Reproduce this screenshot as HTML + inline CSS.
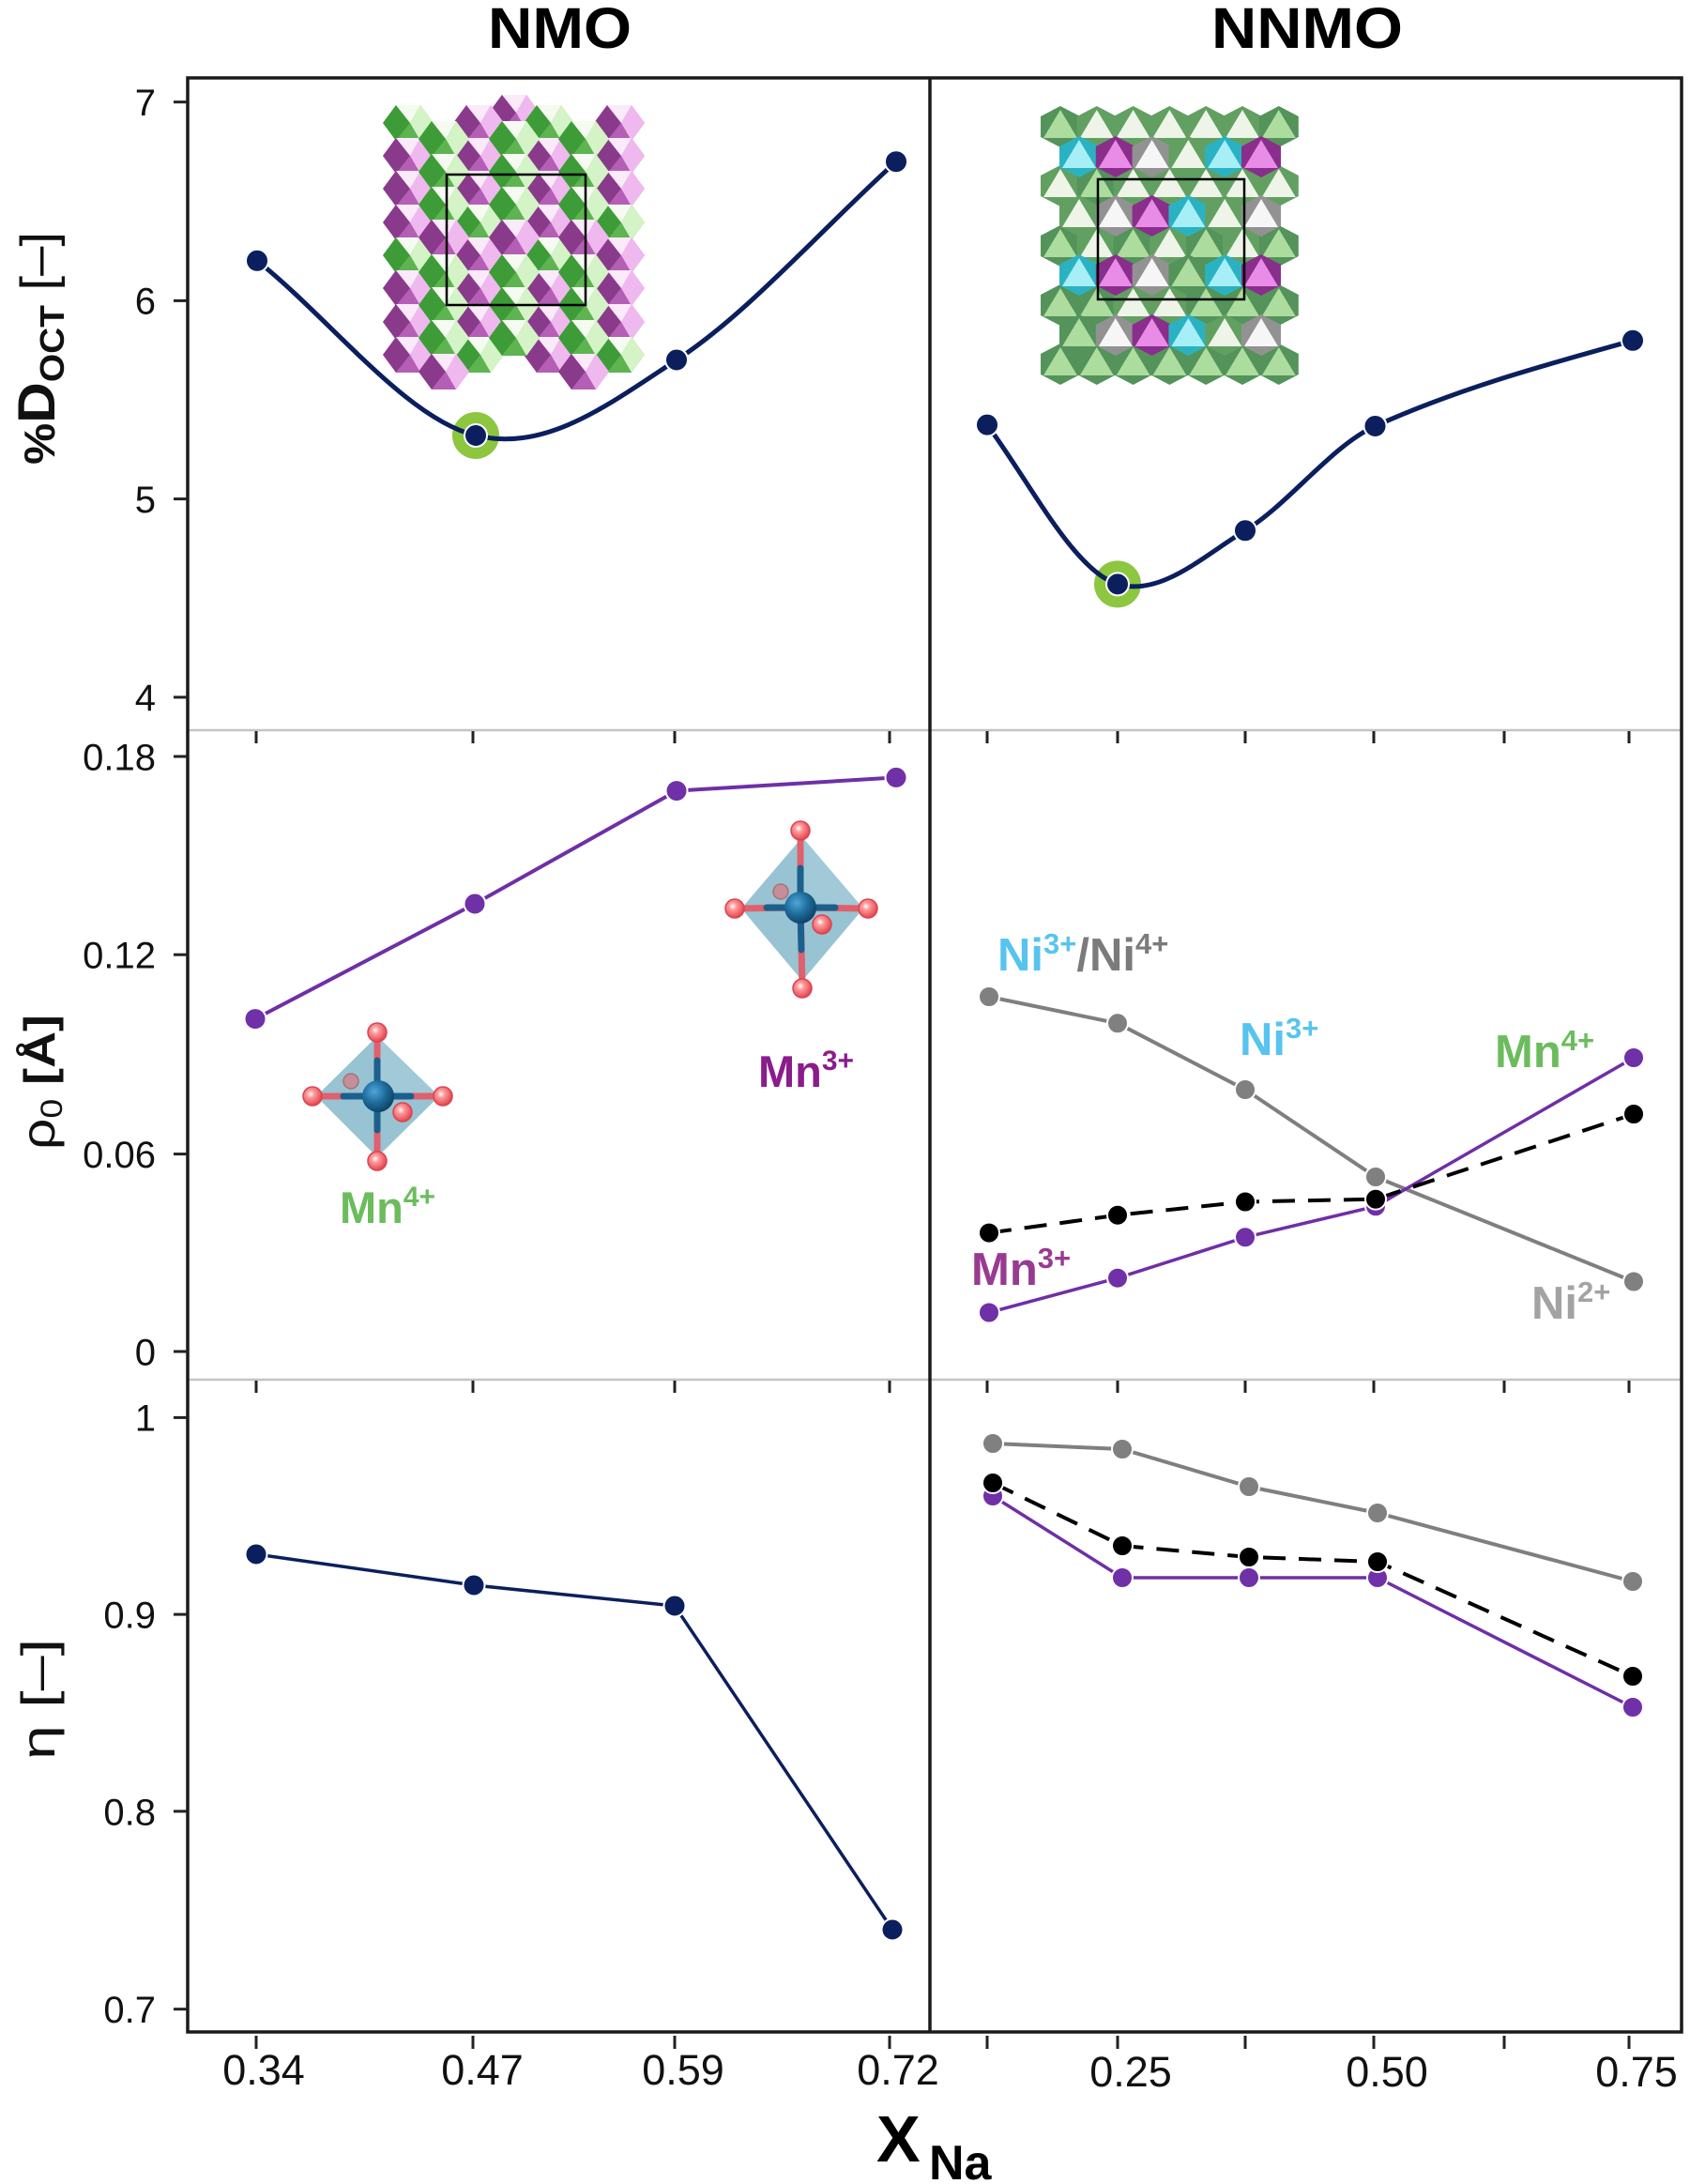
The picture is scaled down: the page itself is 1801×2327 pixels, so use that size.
<!DOCTYPE html>
<html><head><meta charset="utf-8"><style>html,body{margin:0;padding:0;background:#fff}svg{display:block}</style></head>
<body>
<svg width="1801" height="2327" viewBox="0 0 1801 2327" xmlns="http://www.w3.org/2000/svg" font-family="'Liberation Sans', Arial, sans-serif">
<defs>
  <radialGradient id="mnG" cx="0.38" cy="0.35" r="0.7">
    <stop offset="0" stop-color="#4fa6d6"/><stop offset="0.5" stop-color="#1f6e9e"/><stop offset="1" stop-color="#0c3f62"/>
  </radialGradient>
  <radialGradient id="oG" cx="0.4" cy="0.38" r="0.65">
    <stop offset="0" stop-color="#ffffff"/><stop offset="0.3" stop-color="#ff9a9a"/><stop offset="1" stop-color="#e0404c"/>
  </radialGradient>
  <g id="m3">
    <polygon points="-27,0 -13,-19 13,-19 27,0 13,19 -13,19" fill="#d57fd5"/>
    <polygon points="-27,0 -13,-19 2,0 -13,19" fill="#8a3a8b"/>
    <polygon points="2,0 13,-19 27,0 13,19" fill="#efb8ef"/>
    <polygon points="-13,-19 13,-19 2,0" fill="#faeafa"/>
    <polygon points="-13,19 13,19 2,0" fill="#b45fb5"/>
  </g>
  <g id="m4">
    <polygon points="-27,0 -13,-19 13,-19 27,0 13,19 -13,19" fill="#78c868"/>
    <polygon points="-27,0 -13,-19 2,0 -13,19" fill="#3d9c37"/>
    <polygon points="2,0 13,-19 27,0 13,19" fill="#d4f3c6"/>
    <polygon points="-13,-19 13,-19 2,0" fill="#f5fbf1"/>
    <polygon points="-13,19 13,19 2,0" fill="#5db451"/>
  </g>
  <g id="ng"><polygon points="0,-22 21,-11 21,11 0,22 -21,11 -21,-11" fill="#54935a"/><polygon points="0,-18 18,12 -18,12" fill="#acdd9e"/></g>
  <g id="nw"><polygon points="0,-22 21,-11 21,11 0,22 -21,11 -21,-11" fill="#62a062"/><polygon points="0,-18 18,12 -18,12" fill="#eef5e8"/></g>
  <g id="nc"><polygon points="0,-22 21,-11 21,11 0,22 -21,11 -21,-11" fill="#2bb2c2"/><polygon points="0,-18 18,12 -18,12" fill="#a7eff6"/></g>
  <g id="nm"><polygon points="0,-22 21,-11 21,11 0,22 -21,11 -21,-11" fill="#8a2e8c"/><polygon points="0,-18 18,12 -18,12" fill="#e88ce8"/></g>
  <g id="ny"><polygon points="0,-22 21,-11 21,11 0,22 -21,11 -21,-11" fill="#929292"/><polygon points="0,-18 18,12 -18,12" fill="#f6f6f6"/></g>
</defs>

<!-- Titles -->
<text x="520" y="51" font-size="61" font-weight="bold" textLength="153" lengthAdjust="spacingAndGlyphs" fill="#000">NMO</text>
<text x="1291" y="51" font-size="61" font-weight="bold" textLength="204" lengthAdjust="spacingAndGlyphs" fill="#000">NNMO</text>

<!-- NMO inset -->
<g>
  <use href="#m3" x="548" y="120"/>
  <use href="#m4" x="435" y="131"/><use href="#m3" x="435" y="166"/><use href="#m3" x="435" y="201"/><use href="#m3" x="435" y="237"/><use href="#m4" x="435" y="272"/><use href="#m3" x="435" y="307"/><use href="#m3" x="435" y="343"/><use href="#m3" x="435" y="378"/>
  <use href="#m3" x="510" y="131"/><use href="#m3" x="510" y="166"/><use href="#m3" x="510" y="201"/><use href="#m4" x="510" y="237"/><use href="#m3" x="510" y="272"/><use href="#m3" x="510" y="307"/><use href="#m3" x="510" y="343"/><use href="#m4" x="510" y="378"/>
  <use href="#m4" x="585" y="131"/><use href="#m3" x="585" y="166"/><use href="#m3" x="585" y="201"/><use href="#m3" x="585" y="237"/><use href="#m4" x="585" y="272"/><use href="#m3" x="585" y="307"/><use href="#m3" x="585" y="343"/><use href="#m3" x="585" y="378"/>
  <use href="#m3" x="660" y="131"/><use href="#m3" x="660" y="166"/><use href="#m3" x="660" y="201"/><use href="#m4" x="660" y="237"/><use href="#m3" x="660" y="272"/><use href="#m3" x="660" y="307"/><use href="#m3" x="660" y="343"/><use href="#m4" x="660" y="378"/>
  <use href="#m4" x="473" y="148"/><use href="#m4" x="473" y="183"/><use href="#m4" x="473" y="218"/><use href="#m3" x="473" y="253"/><use href="#m4" x="473" y="290"/><use href="#m4" x="473" y="325"/><use href="#m4" x="473" y="360"/><use href="#m3" x="473" y="396"/>
  <use href="#m4" x="548" y="148"/><use href="#m4" x="548" y="183"/><use href="#m4" x="548" y="218"/><use href="#m3" x="548" y="253"/><use href="#m4" x="548" y="290"/><use href="#m4" x="548" y="325"/><use href="#m4" x="548" y="360"/>
  <use href="#m4" x="622" y="148"/><use href="#m4" x="622" y="183"/><use href="#m4" x="622" y="218"/><use href="#m3" x="622" y="253"/><use href="#m4" x="622" y="290"/><use href="#m4" x="622" y="325"/><use href="#m4" x="622" y="360"/><use href="#m3" x="622" y="396"/>
  <rect x="476" y="186" width="148" height="139" fill="none" stroke="#000" stroke-width="2.5"/>
</g>

<!-- NNMO inset -->
<g>
  <use href="#ng" x="1130" y="135"/><use href="#nw" x="1168.8" y="135"/><use href="#nw" x="1207.6" y="135"/><use href="#nw" x="1246.4" y="135"/><use href="#nw" x="1285.2" y="135"/><use href="#nw" x="1324" y="135"/><use href="#ng" x="1362.8" y="135"/>
  <use href="#nw" x="1130" y="198"/><use href="#ng" x="1168.8" y="198"/><use href="#nw" x="1207.6" y="198"/><use href="#nw" x="1246.4" y="198"/><use href="#nw" x="1285.2" y="198"/><use href="#nw" x="1324" y="198"/><use href="#nw" x="1362.8" y="198"/>
  <use href="#ng" x="1130" y="262"/><use href="#nw" x="1168.8" y="262"/><use href="#ng" x="1207.6" y="262"/><use href="#nw" x="1246.4" y="262"/><use href="#ng" x="1285.2" y="262"/><use href="#nw" x="1324" y="262"/><use href="#ng" x="1362.8" y="262"/>
  <use href="#ng" x="1130" y="325"/><use href="#ng" x="1168.8" y="325"/><use href="#nw" x="1207.6" y="325"/><use href="#nw" x="1246.4" y="325"/><use href="#ng" x="1285.2" y="325"/><use href="#ng" x="1324" y="325"/><use href="#ng" x="1362.8" y="325"/>
  <use href="#ng" x="1130" y="388"/><use href="#ng" x="1168.8" y="388"/><use href="#ng" x="1207.6" y="388"/><use href="#ng" x="1246.4" y="388"/><use href="#ng" x="1285.2" y="388"/><use href="#ng" x="1324" y="388"/><use href="#ng" x="1362.8" y="388"/>
  <use href="#nc" x="1150" y="167"/><use href="#nm" x="1188.8" y="167"/><use href="#ny" x="1227.6" y="167"/><use href="#nw" x="1266.4" y="167"/><use href="#nc" x="1305.2" y="167"/><use href="#nm" x="1344" y="167"/>
  <use href="#nw" x="1150" y="230"/><use href="#ny" x="1188.8" y="230"/><use href="#nm" x="1227.6" y="230"/><use href="#nc" x="1266.4" y="230"/><use href="#nw" x="1305.2" y="230"/><use href="#ny" x="1344" y="230"/>
  <use href="#nc" x="1150" y="293"/><use href="#nm" x="1188.8" y="293"/><use href="#ny" x="1227.6" y="293"/><use href="#ng" x="1266.4" y="293"/><use href="#nc" x="1305.2" y="293"/><use href="#nm" x="1344" y="293"/>
  <use href="#ng" x="1150" y="357"/><use href="#ny" x="1188.8" y="357"/><use href="#nm" x="1227.6" y="357"/><use href="#nc" x="1266.4" y="357"/><use href="#nw" x="1305.2" y="357"/><use href="#ny" x="1344" y="357"/>
  <rect x="1170" y="191" width="156" height="128" fill="none" stroke="#000" stroke-width="2.5"/>
</g>

<!-- Frame -->
<line x1="200" y1="778" x2="1792" y2="778" stroke="#c4c4c4" stroke-width="2.5"/>
<line x1="200" y1="1470" x2="1792" y2="1470" stroke="#c4c4c4" stroke-width="2.5"/>
<rect x="200" y="83" width="1592" height="2082" fill="none" stroke="#1a1a1a" stroke-width="3.5"/>
<line x1="991" y1="83" x2="991" y2="2165" stroke="#1a1a1a" stroke-width="3.5"/>

<!-- Y ticks -->
<g stroke="#222" stroke-width="3">
  <line x1="185" y1="108.7" x2="200" y2="108.7"/><line x1="185" y1="320.4" x2="200" y2="320.4"/><line x1="185" y1="531.6" x2="200" y2="531.6"/><line x1="185" y1="742.9" x2="200" y2="742.9"/>
  <line x1="185" y1="806" x2="200" y2="806"/><line x1="185" y1="1017.2" x2="200" y2="1017.2"/><line x1="185" y1="1229.6" x2="200" y2="1229.6"/><line x1="185" y1="1440" x2="200" y2="1440"/>
  <line x1="185" y1="1510.4" x2="200" y2="1510.4"/><line x1="185" y1="1720.1" x2="200" y2="1720.1"/><line x1="185" y1="1929.9" x2="200" y2="1929.9"/><line x1="185" y1="2140.7" x2="200" y2="2140.7"/>
</g>
<g font-size="40" fill="#111" text-anchor="end">
  <text x="166" y="123">7</text><text x="166" y="334.5">6</text><text x="166" y="546">5</text><text x="166" y="757">4</text>
  <text x="166" y="820.5">0.18</text><text x="166" y="1031.5">0.12</text><text x="166" y="1244">0.06</text><text x="166" y="1454.5">0</text>
  <text x="166" y="1524.5">1</text><text x="166" y="1734.5">0.9</text><text x="166" y="1944.5">0.8</text><text x="166" y="2155">0.7</text>
</g>

<!-- X ticks -->
<g stroke="#222" stroke-width="3">
  <line x1="273" y1="779" x2="273" y2="792"/><line x1="504" y1="779" x2="504" y2="792"/><line x1="719" y1="779" x2="719" y2="792"/><line x1="948" y1="779" x2="948" y2="792"/>
  <line x1="1052" y1="779" x2="1052" y2="792"/><line x1="1191" y1="779" x2="1191" y2="792"/><line x1="1327" y1="779" x2="1327" y2="792"/><line x1="1464" y1="779" x2="1464" y2="792"/><line x1="1603" y1="779" x2="1603" y2="792"/><line x1="1736" y1="779" x2="1736" y2="792"/>
  <line x1="273" y1="1471" x2="273" y2="1484"/><line x1="504" y1="1471" x2="504" y2="1484"/><line x1="719" y1="1471" x2="719" y2="1484"/><line x1="948" y1="1471" x2="948" y2="1484"/>
  <line x1="1052" y1="1471" x2="1052" y2="1484"/><line x1="1191" y1="1471" x2="1191" y2="1484"/><line x1="1327" y1="1471" x2="1327" y2="1484"/><line x1="1464" y1="1471" x2="1464" y2="1484"/><line x1="1603" y1="1471" x2="1603" y2="1484"/><line x1="1736" y1="1471" x2="1736" y2="1484"/>
  <line x1="273" y1="2169" x2="273" y2="2183"/><line x1="504" y1="2169" x2="504" y2="2183"/><line x1="719" y1="2169" x2="719" y2="2183"/><line x1="948" y1="2169" x2="948" y2="2183"/>
  <line x1="1052" y1="2169" x2="1052" y2="2183"/><line x1="1191" y1="2169" x2="1191" y2="2183"/><line x1="1327" y1="2169" x2="1327" y2="2183"/><line x1="1464" y1="2169" x2="1464" y2="2183"/><line x1="1603" y1="2169" x2="1603" y2="2183"/><line x1="1736" y1="2169" x2="1736" y2="2183"/>
</g>
<g font-size="45" fill="#111" text-anchor="middle">
  <text x="281" y="2221">0.34</text><text x="514" y="2221">0.47</text><text x="728" y="2221">0.59</text><text x="957" y="2221">0.72</text>
  <text x="1205" y="2223">0.25</text><text x="1478" y="2223">0.50</text><text x="1744" y="2223">0.75</text>
</g>
<text x="934" y="2303" font-size="70" font-weight="bold" fill="#000">X</text>
<text x="990" y="2322" font-size="52" font-weight="bold" fill="#000">Na</text>

<!-- Y axis labels -->
<text transform="translate(58,495) rotate(-90)" textLength="248" lengthAdjust="spacingAndGlyphs" fill="#111" font-weight="bold"><tspan font-size="46">%</tspan><tspan font-size="56">D</tspan><tspan font-size="36" dy="10">OCT</tspan><tspan font-size="52" font-weight="normal" dy="-10"> [–]</tspan></text>
<text transform="translate(58,1225) rotate(-90)" textLength="144" lengthAdjust="spacingAndGlyphs" fill="#111"><tspan font-size="50">ρ</tspan><tspan font-size="32" dy="8">0</tspan><tspan font-size="46" font-weight="bold" dy="-8"> [Å]</tspan></text>
<text transform="translate(58,1875) rotate(-90)" textLength="129" lengthAdjust="spacingAndGlyphs" fill="#111" font-size="50">η [–]</text>

<!-- TOP PANEL -->
<circle cx="507" cy="464" r="25" fill="#8dc63f"/>
<circle cx="1191" cy="622.4" r="25" fill="#8dc63f"/>
<path d="M274,277.8 C351.7,339.3 432.5,446.2 507,464 C581.5,481.8 646.3,432.7 721,383.5 C795.7,335.3 877,242.7 955,172.2" fill="none" stroke="#0b1f5e" stroke-width="5"/>
<path d="M1052,452.6 C1098.3,515.1 1144.7,608.5 1191,622.4 C1236.3,636 1281.7,593 1327,565.3 C1373.2,537.1 1419.3,474.8 1465.5,454 C1557,412.8 1648.5,388.4 1740,362.8" fill="none" stroke="#0b1f5e" stroke-width="5"/>
<g fill="#0b1f5e" stroke="#fff" stroke-width="2">
  <circle cx="274" cy="277.8" r="12"/><circle cx="507" cy="464" r="12"/><circle cx="721" cy="383.5" r="12"/><circle cx="955" cy="172.2" r="12"/>
  <circle cx="1052" cy="452.6" r="12"/><circle cx="1191" cy="622.4" r="12"/><circle cx="1327" cy="565.3" r="12"/><circle cx="1465.5" cy="454" r="12"/><circle cx="1740" cy="362.8" r="12"/>
</g>

<!-- MIDDLE PANEL NMO -->
<polyline points="272,1085.6 506,963 721,842.6 955,828.4" fill="none" stroke="#6f2fa6" stroke-width="4"/>
<g fill="#7030a8" stroke="#fff" stroke-width="2">
  <circle cx="272" cy="1085.6" r="11.5"/><circle cx="506" cy="963" r="11.5"/><circle cx="721" cy="842.6" r="11.5"/><circle cx="955" cy="828.4" r="11.5"/>
</g>

<!-- Mn4+ octahedron -->
<g>
  <polygon points="402,1104 468,1168 402,1233 337,1168" fill="#8dbccd" opacity="0.9"/>
  <polygon points="402,1104 468,1168 402,1168" fill="#a6cdda" opacity="0.6"/>
  <g stroke-width="7" stroke-linecap="round">
    <line x1="402" y1="1168" x2="402" y2="1100" stroke="#e0606e"/><line x1="402" y1="1168" x2="402" y2="1237" stroke="#e0606e"/>
    <line x1="402" y1="1168" x2="333" y2="1168" stroke="#e0606e"/><line x1="402" y1="1168" x2="472" y2="1168" stroke="#e0606e"/>
    <line x1="402" y1="1168" x2="402" y2="1130" stroke="#1d5f8c"/><line x1="402" y1="1168" x2="402" y2="1204" stroke="#1d5f8c"/>
    <line x1="402" y1="1168" x2="366" y2="1168" stroke="#1d5f8c"/><line x1="402" y1="1168" x2="438" y2="1168" stroke="#1d5f8c"/>
  </g>
  <circle cx="374" cy="1152" r="8" fill="#c48f98" stroke="#a87078" stroke-width="1.5"/>
  <circle cx="403" cy="1168" r="17" fill="url(#mnG)"/>
  <g fill="url(#oG)" stroke="#d94452" stroke-width="1.5">
    <circle cx="402" cy="1100" r="10"/><circle cx="402" cy="1237" r="10"/><circle cx="333" cy="1168" r="10"/><circle cx="472" cy="1168" r="10"/><circle cx="429" cy="1185" r="10"/>
  </g>
</g>
<!-- Mn3+ octahedron -->
<g>
  <polygon points="855,892 920,968 855,1045 790,968" fill="#8dbccd" opacity="0.9"/>
  <polygon points="855,892 920,968 855,968" fill="#a6cdda" opacity="0.6"/>
  <g stroke-width="7" stroke-linecap="round">
    <line x1="853" y1="967" x2="853" y2="885" stroke="#e0606e"/><line x1="853" y1="967" x2="855" y2="1053" stroke="#e0606e"/>
    <line x1="853" y1="967" x2="783" y2="968" stroke="#e0606e"/><line x1="853" y1="967" x2="925" y2="968" stroke="#e0606e"/>
    <line x1="853" y1="967" x2="853" y2="925" stroke="#1d5f8c"/><line x1="853" y1="967" x2="854" y2="1012" stroke="#1d5f8c"/>
    <line x1="853" y1="967" x2="817" y2="967" stroke="#1d5f8c"/><line x1="853" y1="967" x2="890" y2="967" stroke="#1d5f8c"/>
  </g>
  <circle cx="832" cy="950" r="8" fill="#c48f98" stroke="#a87078" stroke-width="1.5"/>
  <circle cx="853" cy="967" r="17" fill="url(#mnG)"/>
  <g fill="url(#oG)" stroke="#d94452" stroke-width="1.5">
    <circle cx="853" cy="885" r="10"/><circle cx="855" cy="1053" r="10"/><circle cx="783" cy="968" r="10"/><circle cx="925" cy="968" r="10"/><circle cx="876" cy="985" r="10"/>
  </g>
</g>
<text x="362" y="1303" font-size="47" font-weight="bold" fill="#6cbc5e">Mn<tspan font-size="30" dy="-18">4+</tspan></text>
<text x="808" y="1158" font-size="47" font-weight="bold" fill="#8a1c8c">Mn<tspan font-size="30" dy="-18">3+</tspan></text>

<!-- MIDDLE PANEL NNMO -->
<polyline points="1054,1062 1191,1090.3 1327,1161 1466,1254 1741,1365.5" fill="none" stroke="#7f7f7f" stroke-width="4"/>
<g fill="#808080" stroke="#fff" stroke-width="2">
  <circle cx="1054" cy="1062" r="11"/><circle cx="1191" cy="1090.3" r="11"/><circle cx="1327" cy="1161" r="11"/><circle cx="1466" cy="1254" r="11"/><circle cx="1741" cy="1365.5" r="11"/>
</g>
<polyline points="1054,1398.5 1191,1361.7 1327,1318.3 1466,1285.3 1741,1127" fill="none" stroke="#6f2fa6" stroke-width="3.5"/>
<g fill="#7030a8" stroke="#fff" stroke-width="2">
  <circle cx="1054" cy="1398.5" r="11"/><circle cx="1191" cy="1361.7" r="11"/><circle cx="1327" cy="1318.3" r="11"/><circle cx="1466" cy="1285.3" r="11"/><circle cx="1741" cy="1127" r="11"/>
</g>
<polyline points="1054,1313.6 1191,1294.7 1327,1280.5 1466,1277.7 1741,1187" fill="none" stroke="#000" stroke-width="4" stroke-dasharray="24 14"/>
<g fill="#000" stroke="#fff" stroke-width="2">
  <circle cx="1054" cy="1313.6" r="11"/><circle cx="1191" cy="1294.7" r="11"/><circle cx="1327" cy="1280.5" r="11"/><circle cx="1466" cy="1277.7" r="11"/><circle cx="1741" cy="1187" r="11"/>
</g>
<text x="1063" y="1034" font-size="49" font-weight="bold"><tspan fill="#56c4ef">Ni<tspan font-size="31" dy="-18">3+</tspan></tspan><tspan fill="#7b7b7b" dy="18">/Ni<tspan font-size="31" dy="-18">4+</tspan></tspan></text>
<text x="1321" y="1124" font-size="49" font-weight="bold" fill="#56c4ef">Ni<tspan font-size="31" dy="-18">3+</tspan></text>
<text x="1593" y="1137" font-size="49" font-weight="bold" fill="#6cbc5e">Mn<tspan font-size="31" dy="-18">4+</tspan></text>
<text x="1035" y="1369" font-size="49" font-weight="bold" fill="#983a92">Mn<tspan font-size="31" dy="-18">3+</tspan></text>
<text x="1632" y="1405" font-size="49" font-weight="bold" fill="#a3a3a3">Ni<tspan font-size="31" dy="-18">2+</tspan></text>

<!-- BOTTOM PANEL NMO -->
<polyline points="273,1656 505,1689 719,1711 951,2056" fill="none" stroke="#0b1f5e" stroke-width="3.5"/>
<g fill="#0b1f5e" stroke="#fff" stroke-width="2">
  <circle cx="273" cy="1656" r="11.5"/><circle cx="505" cy="1689" r="11.5"/><circle cx="719" cy="1711" r="11.5"/><circle cx="951" cy="2056" r="11.5"/>
</g>

<!-- BOTTOM PANEL NNMO -->
<polyline points="1058,1538 1196,1544 1331,1584 1468,1612 1740,1685" fill="none" stroke="#7f7f7f" stroke-width="4"/>
<g fill="#808080" stroke="#fff" stroke-width="2">
  <circle cx="1058" cy="1538" r="11"/><circle cx="1196" cy="1544" r="11"/><circle cx="1331" cy="1584" r="11"/><circle cx="1468" cy="1612" r="11"/><circle cx="1740" cy="1685" r="11"/>
</g>
<polyline points="1058,1594 1196,1681 1331,1681 1468,1681 1740,1819" fill="none" stroke="#6f2fa6" stroke-width="3.5"/>
<g fill="#7030a8" stroke="#fff" stroke-width="2">
  <circle cx="1058" cy="1594" r="11"/><circle cx="1196" cy="1681" r="11"/><circle cx="1331" cy="1681" r="11"/><circle cx="1468" cy="1681" r="11"/><circle cx="1740" cy="1819" r="11"/>
</g>
<polyline points="1058,1580 1196,1647 1331,1659 1468,1664 1740,1786" fill="none" stroke="#000" stroke-width="4" stroke-dasharray="24 14"/>
<g fill="#000" stroke="#fff" stroke-width="2">
  <circle cx="1058" cy="1580" r="11"/><circle cx="1196" cy="1647" r="11"/><circle cx="1331" cy="1659" r="11"/><circle cx="1468" cy="1664" r="11"/><circle cx="1740" cy="1786" r="11"/>
</g>
</svg>
</body></html>
